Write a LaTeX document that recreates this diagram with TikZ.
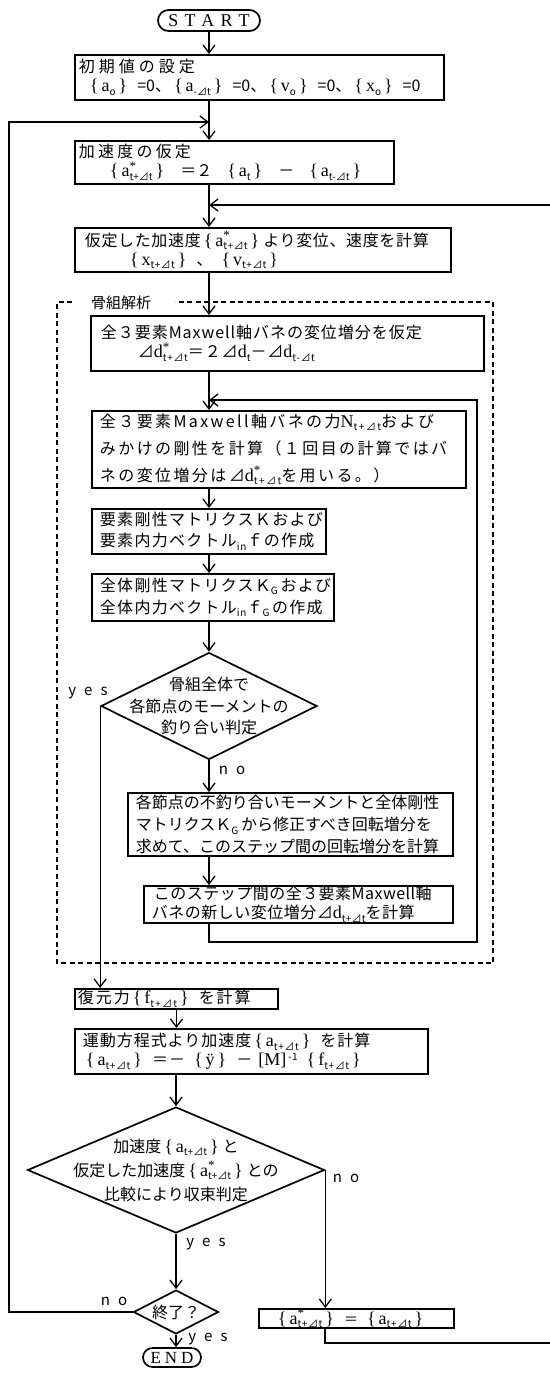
\documentclass[tikz,border=0pt]{standalone}
\usepackage{fontspec}
\setmainfont{Noto Sans CJK JP}
\newfontfamily\serifl{Liberation Serif}
\usetikzlibrary{arrows.meta,shapes.geometric}
\newcommand\ls[1]{\addfontfeature{LetterSpace=#1}}
\newcommand\sbs[1]{\raisebox{-3.6pt}{\fontsize{10}{10}\selectfont#1}}
\newcommand\sps[1]{\raisebox{5pt}{\fontsize{10}{10}\selectfont#1}}
\newcommand\spsb[2]{\makebox[0pt][l]{\raisebox{6.6pt}{\serifl\fontsize{13}{13}\selectfont *}}\sbs{#2}}
\newcommand\lt[1]{{\serifl\fontsize{18}{18}\selectfont #1}}
\newcommand\lb{\hspace{3pt}{\serifl\fontsize{18}{18}\selectfont\{}\hspace{3pt}}
\newcommand\rb{\hspace{3pt}{\serifl\fontsize{18}{18}\selectfont\}}\hspace{4pt}}
\newcommand\gap{\hspace{6pt}}
\newcommand\wgap{\hspace{12pt}}
\newcommand\Dt{t+⊿t}
\newcommand\Dm{t-⊿t}
\tikzset{
  box/.style={draw, line width=1.9pt, anchor=north west, inner xsep=8pt, inner ysep=0pt,
    align=left, font=\fontsize{16}{19}\selectfont},
  arr/.style={line width=1.3pt, -{Straight Barb[length=8pt,width=12pt]}},
  dia/.style={draw, diamond, line width=1.7pt, inner sep=0pt},
  dtext/.style={align=center, inner sep=0pt, font=\fontsize{16}{21.5}\selectfont},
  term/.style={draw, line width=1.7pt, inner sep=0pt},
  lbl/.style={inner sep=0pt, font=\fontsize{15}{15}\selectfont},
  frame/.style={line width=2pt, dash pattern=on 5pt off 3.5pt}
}
\begin{document}
\begin{tikzpicture}[x=1pt,y=-1pt]
\useasboundingbox[fill=white] (0,0) rectangle (549,1376);
\coordinate (mx) at (209,0);
\coordinate (lx) at (9,0);
\coordinate (m1) at (209,122);
\coordinate (m2) at (209,205);
\coordinate (m3) at (209,400);
\coordinate (c1) at (209,942);
\coordinate (c2) at (477,942);
\coordinate (r1) at (325,1343);
\coordinate (r2) at (558,1343);

% terminals
\node[term, rounded corners=10.5pt, minimum width=102pt, minimum height=21pt] (start) at (209,20.5)
  {\serifl\fontsize{18}{18}\selectfont S\kern6pt T\kern6pt A\kern6pt R\kern6pt T};
\node[term, rounded corners=9.5pt, minimum width=58pt, minimum height=19pt] (end) at (172,1357.5)
  {\serifl\fontsize{17}{17}\selectfont E\kern4pt N\kern4pt D};

% boxes
\node[box, inner xsep=4pt, text width=361pt, minimum height=45pt] (b1) at (74,54)
  {{\ls{25}初期値の設定}\\
   \hspace*{8pt}\lb\lt{a}\sbs{o}\rb\gap=0、\lb\lt{a}\sbs{-⊿t}\rb\gap=0、\lb\lt{v}\sbs{o}\rb\gap=0、\lb\lt{x}\sbs{o}\rb\gap=0};
\node[box, inner xsep=4pt, text width=311pt, minimum height=43pt] (b2) at (74,140)
  {{\ls{20}加速度の仮定}\\
   \hspace*{28pt}\lb\lt{a}\spsb{*}{\Dt}\rb\wgap＝２\wgap\lb\lt{a}\sbs{t}\rb\wgap－\wgap\lb\lt{a}\sbs{\Dm}\rb{}};
\node[box, text width=360pt, minimum height=44pt] (b3) at (74,227)
  {\ls{4}\hspace*{2pt}仮定した加速度\lb\lt{a}\spsb{*}{\Dt}\rb{}より変位、速度を計算\\
   \hspace*{44pt}\lb\lt{x}\sbs{\Dt}\rb\gap、\gap\lb\lt{v}\sbs{\Dt}\rb{}};
\node[box, text width=377pt, minimum height=55pt] (b4) at (90,315)
  {\ls{6}\hspace*{2pt}全３要素Maxwell軸バネの変位増分を仮定\\
   \hspace*{39pt}⊿\lt{d}\spsb{*}{\Dt}＝２⊿\lt{d}\sbs{t}－⊿\lt{d}\sbs{\Dm}};
\node[box, text width=358pt, minimum height=77pt, font=\fontsize{16}{27}\selectfont] (b5) at (91,410)
  {\ls{15}全３要素Maxwell軸バネの力\lt{N}\sbs{\Dt}および\\
   みかけの剛性を計算（１回目の計算ではバ\\
   ネの変位増分は⊿\lt{d}\spsb{*}{\Dt}を用いる。）};
\node[box, text width=218pt, minimum height=45pt, font=\fontsize{16}{21}\selectfont] (b6) at (91,508)
  {\ls{8}要素剛性マトリクスＫおよび\\
   要素内力ベクトル\sbs{in}ｆの作成};
\node[box, text width=226pt, minimum height=47pt, font=\fontsize{16}{22}\selectfont] (b7) at (91,573)
  {\ls{8}全体剛性マトリクスＫ\sbs{G}\,および\\
   全体内力ベクトル\sbs{in}ｆ\sbs{G}\,の作成};
\node[box, text width=309pt, minimum height=63pt, font=\fontsize{16}{22}\selectfont] (b8) at (127,792)
  {各節点の不釣り合いモーメントと全体剛性\\
   マトリクスＫ\sbs{G}\,から修正すべき回転増分を\\
   求めて、このステップ間の回転増分を計算};
\node[box, text width=293pt, minimum height=37pt, font=\fontsize{16}{19}\selectfont] (b9) at (143,885)
  {\ls{3}\hspace*{2pt}このステップ間の全３要素Maxwell軸\\
   バネの新しい変位増分⊿\lt{d}\sbs{\Dt}を計算};
\node[box, inner xsep=3pt, text width=197pt, minimum height=20pt] (b10) at (74,988)
  {\ls{12}復元力\lb\lt{f}\sbs{\Dt}\rb\gap を計算};
\node[box, text width=337pt, minimum height=45pt] (b11) at (74,1028)
  {\ls{6}運動方程式より加速度\lb\lt{a}\sbs{\Dt}\rb\gap を計算\\
   \lb\lt{a}\sbs{\Dt}\rb\gap＝－\gap\lb\lt{ÿ}\rb\gap－\gap\lt{[M]}\sps{\,-1}\gap\lb\lt{f}\sbs{\Dt}\rb{}};
\node[box, text width=179pt, minimum height=17pt, font=\fontsize{14}{14}\selectfont] (b12) at (258,1308)
  {\ls{6}\hspace*{8pt}\lb\lt{a}\spsb{*}{\Dt}\rb\gap＝\gap\lb\lt{a}\sbs{\Dt}\rb{}};

% decisions
\node[dia, minimum width=216pt, minimum height=107pt] (d1) at (209,706) {};
\node[dtext] (d1t) at (d1.center) {骨組全体で\\各節点のモーメントの\\釣り合い判定};
\node[dia, minimum width=297pt, minimum height=126pt] (d2) at (176,1170) {};
\node[dtext, font=\fontsize{16}{24}\selectfont] (d2t) at (d2.center)
  {加速度\lb\lt{a}\sbs{\Dt}\rb{}と\\仮定した加速度\lb\lt{a}\spsb{*}{\Dt}\rb{}との\\比較により収束判定};
\node[dia, minimum width=85pt, minimum height=44pt] (ends) at (176,1312) {};
\node[dtext] (endst) at (ends.center) {終了？};

% frame of the frame analysis
\draw[frame] (72,302) -- (57,302) -- (57,963) -- (493,963) -- (493,302) -- (175,302);
\node[anchor=west, inner sep=0pt, font=\fontsize{15}{15}\selectfont] (fl) at (91,302.5) {骨組解析};

% main flow
\draw[arr] (start.south) -- (b1.north -| start.south);
\draw[arr] (b1.south -| mx) -- (b2.north -| mx);
\draw[arr] (b2.south -| mx) -- (b3.north -| mx);
\draw[arr] (b3.south -| mx) -- (b4.north -| mx);
\draw[arr] (b4.south -| mx) -- (b5.north -| mx);
\draw[arr] (b5.south -| mx) -- (b6.north -| mx);
\draw[arr] (b6.south -| mx) -- (b7.north -| mx);
\draw[arr] (b7.south -| mx) -- (d1.north);
\draw[arr] (d1.south) -- (b8.north -| d1.south);
\draw[arr] (b8.south -| mx) -- (b9.north -| mx);
\draw[arr] (b9.south -| c1) -- (c1) -- (c2) |- (m3);
\draw[arr] (d1.west) -- (d1.west |- b10.north);
\draw[arr] (b10.south) -- (b10.south |- b11.north);
\draw[arr] (b11.south -| d2.north) -- (d2.north);
\draw[arr] (d2.south) -- (ends.north);
\draw[arr] (d2.east) -- (d2.east |- b12.north);
\draw[arr] (ends.south) -- (ends.south |- end.north);
\draw[arr] (ends.west) -- (ends.west -| lx) |- (m1);
\draw[arr] (b12.south -| r1) -- (r1) -- (r2) |- (m2);

% labels
\node[lbl] (yes1) at (88,693) {y\kern8pt e\kern8pt s};
\node[lbl] (no1) at (232,770) {n\kern8pt o};
\node[lbl] (no2) at (346,1178) {n\kern8pt o};
\node[lbl] (yes2) at (206,1244) {y\kern8pt e\kern8pt s};
\node[lbl] (no3) at (114,1301) {n\kern8pt o};
\node[lbl] (yes3) at (208,1339) {y\kern8pt e\kern8pt s};
\end{tikzpicture}
\end{document}
